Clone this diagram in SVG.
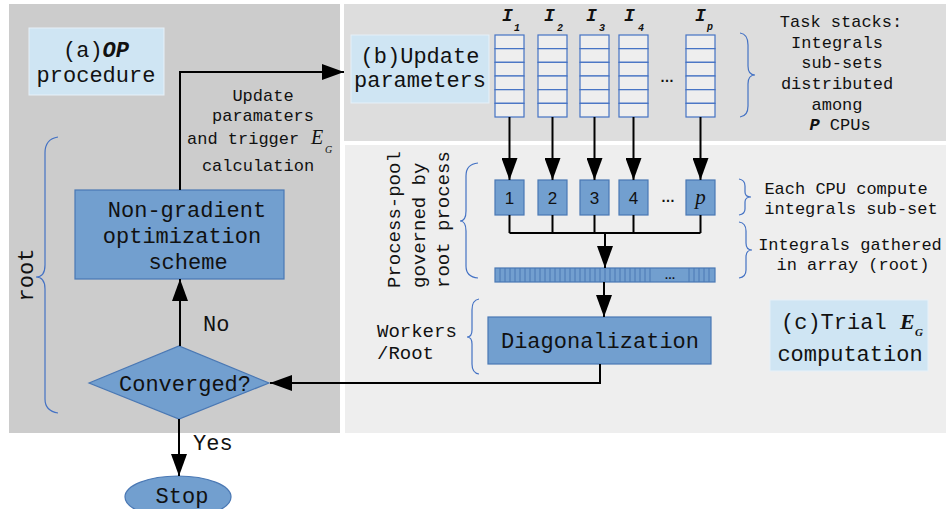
<svg xmlns="http://www.w3.org/2000/svg" width="946" height="509" viewBox="0 0 946 509">
<defs>
<marker id="ah" markerUnits="userSpaceOnUse" markerWidth="22" markerHeight="16" refX="22" refY="8" orient="auto">
<path d="M0,0 L22,8 L0,16 z" fill="#000"/>
</marker>
</defs>
<style>
.mono{font-family:"Liberation Mono","Courier New",monospace;fill:#111}
.f22{font-size:22px}
.f17{font-size:17px}
.f19{font-size:19px}
.bi{font-weight:bold;font-style:italic}
.lbl{fill:#cfe5f3;stroke:#e6f0f8;stroke-width:1}
.node{fill:#729fcf;stroke:#4a78b4;stroke-width:1.2}
.cell{fill:#eeeeee;stroke:#4472c4;stroke-width:1.2}
.brace{fill:none;stroke:#4472c4;stroke-width:1.2}
.ln{fill:none;stroke:#000;stroke-width:2}
.arr{fill:none;stroke:#000;stroke-width:2;marker-end:url(#ah)}
.sans{font-family:"Liberation Sans","DejaVu Sans",sans-serif;fill:#111}
.serif{font-family:"Liberation Serif","Times New Roman",serif;fill:#111}
</style>
<rect width="946" height="509" fill="#fff"/>
<g id="panels">
<rect x="9" y="4" width="331" height="429" fill="#cccccc"/>
<rect x="344" y="4" width="602" height="137" fill="#dddddd"/>
<rect x="345" y="145" width="601" height="288" fill="#eeeeee"/>
</g>
<g id="label-a">
<rect class="lbl" x="29" y="28" width="135" height="67"/>
<text class="mono f22" x="96" y="57" text-anchor="middle">(a)<tspan class="bi">OP</tspan></text>
<text class="mono f22" x="96" y="82" text-anchor="middle">procedure</text>
</g>
<g id="label-b">
<rect class="lbl" x="351" y="35" width="138" height="68"/>
<text class="mono f22" x="420" y="63" text-anchor="middle">(b)Update</text>
<text class="mono f22" x="420" y="87" text-anchor="middle">parameters</text>
</g>
<g id="label-c">
<rect class="lbl" x="770" y="300" width="158" height="71"/>
<text class="mono f22" x="781" y="329">(c)Trial</text>
<text class="serif bi" x="900" y="329" font-size="22">E</text>
<text class="serif bi" x="915" y="336" font-size="11">G</text>
<text class="mono f22" x="850" y="361" text-anchor="middle">computation</text>
</g>
<g id="update-text">
<text class="mono f17" x="263" y="101" text-anchor="middle">Update</text>
<text class="mono f17" x="263" y="121" text-anchor="middle">paramaters</text>
<text class="mono f17" x="187" y="144">and trigger</text>
<text class="serif" x="311" y="144" font-size="20" font-style="italic">E</text>
<text class="serif" x="325" y="153" font-size="10" font-style="italic">G</text>
<text class="mono f17" x="258" y="171" text-anchor="middle">calculation</text>
</g>
<g id="optimizer">
<rect class="node" x="75" y="190" width="209" height="89"/>
<text class="mono f22" x="187" y="217" text-anchor="middle">Non-gradient</text>
<text class="mono f22" x="182" y="243" text-anchor="middle">optimization</text>
<text class="mono f22" x="188" y="269" text-anchor="middle">scheme</text>
</g>
<g id="converged">
<polygon class="node" points="89,383 179,346 269,383 179,419"/>
<text class="mono f22" x="185" y="391" text-anchor="middle">Converged?</text>
</g>
<g id="stop">
<ellipse class="node" cx="178" cy="497" rx="53" ry="21"/>
<text class="mono f22" x="182" y="503" text-anchor="middle">Stop</text>
</g>
<g id="root-label">
<text class="mono f22" transform="translate(33,275) rotate(-90)" text-anchor="middle">root</text>
<path class="brace" d="M58,137 Q45,139 45,153 L45,265 Q45,277 36,277 Q45,277 45,289 L45,399 Q45,411 58,413"/>
</g>
<g id="stacks">
<g id="stack1">
<rect class="cell" x="495" y="35" width="29" height="13.67"/><rect class="cell" x="495" y="48.67" width="29" height="13.67"/><rect class="cell" x="495" y="62.33" width="29" height="13.67"/><rect class="cell" x="495" y="76" width="29" height="13.67"/><rect class="cell" x="495" y="89.67" width="29" height="13.67"/><rect class="cell" x="495" y="103.33" width="29" height="13.67"/>
<text class="mono bi" x="502" y="21" font-size="18">I</text><text class="mono bi" x="514" y="31" font-size="10">1</text>
</g>
<g id="stack2">
<rect class="cell" x="538" y="35" width="29" height="13.67"/><rect class="cell" x="538" y="48.67" width="29" height="13.67"/><rect class="cell" x="538" y="62.33" width="29" height="13.67"/><rect class="cell" x="538" y="76" width="29" height="13.67"/><rect class="cell" x="538" y="89.67" width="29" height="13.67"/><rect class="cell" x="538" y="103.33" width="29" height="13.67"/>
<text class="mono bi" x="544" y="21" font-size="18">I</text><text class="mono bi" x="557" y="31" font-size="10">2</text>
</g>
<g id="stack3">
<rect class="cell" x="580" y="35" width="29" height="13.67"/><rect class="cell" x="580" y="48.67" width="29" height="13.67"/><rect class="cell" x="580" y="62.33" width="29" height="13.67"/><rect class="cell" x="580" y="76" width="29" height="13.67"/><rect class="cell" x="580" y="89.67" width="29" height="13.67"/><rect class="cell" x="580" y="103.33" width="29" height="13.67"/>
<text class="mono bi" x="586" y="21" font-size="18">I</text><text class="mono bi" x="599" y="31" font-size="10">3</text>
</g>
<g id="stack4">
<rect class="cell" x="619" y="35" width="29" height="13.67"/><rect class="cell" x="619" y="48.67" width="29" height="13.67"/><rect class="cell" x="619" y="62.33" width="29" height="13.67"/><rect class="cell" x="619" y="76" width="29" height="13.67"/><rect class="cell" x="619" y="89.67" width="29" height="13.67"/><rect class="cell" x="619" y="103.33" width="29" height="13.67"/>
<text class="mono bi" x="624" y="21" font-size="18">I</text><text class="mono bi" x="638" y="31" font-size="10">4</text>
</g>
<text class="sans" x="667" y="82" font-size="14" font-weight="bold" text-anchor="middle">…</text>
<g id="stackp">
<rect class="cell" x="686" y="35" width="29" height="13.67"/><rect class="cell" x="686" y="48.67" width="29" height="13.67"/><rect class="cell" x="686" y="62.33" width="29" height="13.67"/><rect class="cell" x="686" y="76" width="29" height="13.67"/><rect class="cell" x="686" y="89.67" width="29" height="13.67"/><rect class="cell" x="686" y="103.33" width="29" height="13.67"/>
<text class="mono bi" x="695" y="21" font-size="18">I</text><text class="mono bi" x="707" y="30" font-size="10">p</text>
</g>
</g>
<g id="task-note">
<path class="brace" d="M740,33 Q748,34 748,45 L748,66 Q748,75 755,75 Q748,75 748,84 L748,106 Q748,116 740,117"/>
<text class="mono f17" x="841" y="27" text-anchor="middle">Task stacks:</text>
<text class="mono f17" x="837" y="48" text-anchor="middle">Integrals</text>
<text class="mono f17" x="842" y="68" text-anchor="middle">sub-sets</text>
<text class="mono f17" x="837" y="89" text-anchor="middle">distributed</text>
<text class="mono f17" x="837" y="110" text-anchor="middle">among</text>
<text class="mono f17" x="840" y="130" text-anchor="middle"><tspan class="bi">P</tspan> CPUs</text>
</g>
<g id="cpus">
<g id="cpu1"><rect class="node" x="495" y="180" width="29" height="35"/><text class="sans" x="509.5" y="204" font-size="17" text-anchor="middle">1</text></g>
<g id="cpu2"><rect class="node" x="538" y="180" width="29" height="35"/><text class="sans" x="552.5" y="204" font-size="17" text-anchor="middle">2</text></g>
<g id="cpu3"><rect class="node" x="580" y="180" width="29" height="35"/><text class="sans" x="594.5" y="204" font-size="17" text-anchor="middle">3</text></g>
<g id="cpu4"><rect class="node" x="619" y="180" width="29" height="35"/><text class="sans" x="633.5" y="204" font-size="17" text-anchor="middle">4</text></g>
<text class="sans" x="668" y="202" font-size="14" font-weight="bold" text-anchor="middle">…</text>
<g id="cpup"><rect class="node" x="686" y="180" width="29" height="35"/><text class="serif" x="700.5" y="204" font-size="21" font-style="italic" text-anchor="middle">p</text></g>
</g>
<g id="array">
<rect class="node" x="495" y="268" width="220" height="14"/>
<path fill="none" stroke="#4a78b4" stroke-width="1" d="M500,268v14M505,268v14M510,268v14M515,268v14M520,268v14M525,268v14M530,268v14M535,268v14M540,268v14M545,268v14M550,268v14M555,268v14M560,268v14M565,268v14M570,268v14M575,268v14M580,268v14M585,268v14M590,268v14M595,268v14M600,268v14M605,268v14M610,268v14M615,268v14M620,268v14M625,268v14M630,268v14M635,268v14M640,268v14M645,268v14M650,268v14M689,268v14M694,268v14M699,268v14M704,268v14M709,268v14"/>
<text class="sans" x="670" y="279" font-size="11" font-weight="bold" text-anchor="middle">…</text>
</g>
<g id="pool-note">
<text class="mono f19" transform="translate(400,288) rotate(-90)">Process-pool</text>
<text class="mono f19" transform="translate(425,288) rotate(-90)">governed by</text>
<text class="mono f19" transform="translate(449,288) rotate(-90)">root process</text>
<path class="brace" d="M478,163 Q466,164 466,176 L466,211 Q466,221 460,221 Q466,221 466,231 L466,266 Q466,277 478,278"/>
</g>
<g id="cpu-note">
<path class="brace" d="M739,179 Q745,180 745,186 L745,192 Q745,197 751,197 Q745,197 745,202 L745,209 Q745,214 739,215"/>
<text class="mono f17" x="846" y="194" text-anchor="middle">Each CPU compute</text>
<text class="mono f17" x="851" y="214" text-anchor="middle">integrals sub-set</text>
<path class="brace" d="M739,222 Q746,223 746,231 L746,243 Q746,250 752,250 Q746,250 746,257 L746,270 Q746,277 739,278"/>
<text class="mono f17" x="850" y="250" text-anchor="middle">Integrals gathered</text>
<text class="mono f17" x="853" y="270" text-anchor="middle">in array (root)</text>
</g>
<g id="diag">
<rect class="node" x="488" y="317" width="223" height="47"/>
<text class="mono f22" x="600" y="348" text-anchor="middle">Diagonalization</text>
</g>
<g id="workers-note">
<text class="mono f19" x="377" y="337">Workers</text>
<text class="mono f19" x="377" y="359">/Root</text>
<path class="brace" d="M479,299 Q472,300 472,310 L472,330 Q472,337 467,337 Q472,337 472,344 L472,364 Q472,373 479,374"/>
</g>
<g id="connectors">
<polyline class="arr" points="180,190 180,72 344,72"/>
<line class="arr" x1="180" y1="346" x2="180" y2="279"/>
<line class="arr" x1="179" y1="419" x2="179" y2="476"/>
<polyline class="arr" points="600,364 600,383 270,383"/>
<line class="arr" x1="509.5" y1="117" x2="509.5" y2="180"/>
<line class="arr" x1="552.5" y1="117" x2="552.5" y2="180"/>
<line class="arr" x1="594.5" y1="117" x2="594.5" y2="180"/>
<line class="arr" x1="633.5" y1="117" x2="633.5" y2="180"/>
<line class="arr" x1="700.5" y1="117" x2="700.5" y2="180"/>
<path class="ln" d="M509.5,215V233M552.5,215V233M594.5,215V233M633.5,215V233M700.5,215V233M509.5,233H700.5"/>
<line class="arr" x1="605" y1="233" x2="605" y2="268"/>
<line class="arr" x1="604" y1="282" x2="604" y2="317"/>
</g>
<g id="edge-labels">
<text class="mono f22" x="203" y="331">No</text>
<text class="mono f22" x="193" y="450">Yes</text>
</g>
</svg>
